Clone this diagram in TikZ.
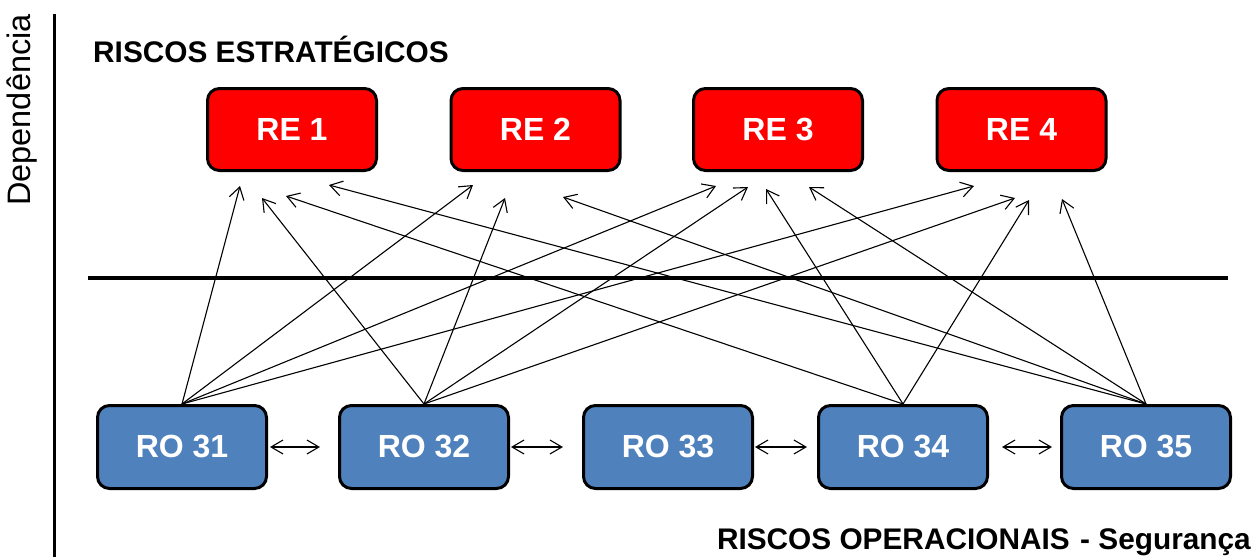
\documentclass[tikz,border=0pt]{standalone}
\usepackage{fontspec}
\setmainfont{Liberation Sans}
\usetikzlibrary{arrows.meta}
\definecolor{roblue}{HTML}{4F81BD}
\begin{document}
\begin{tikzpicture}[x=1pt,y=-1pt,
  rebox/.style={draw=black, line width=3pt, fill=red, rounded corners=12pt,
    minimum width=169pt, minimum height=82pt, inner sep=0pt, text=white,
    font=\fontsize{32}{32}\selectfont\bfseries},
  robox/.style={rebox, fill=roblue, minimum height=83pt},
  link/.style={line width=1.1pt, -{Straight Barb[length=12pt,width=15pt]}},
  pair/.style={line width=1.1pt, {Straight Barb[length=12pt,width=14pt]}-{Straight Barb[length=12pt,width=14pt]}},
  bigtext/.style={font=\fontsize{29.8}{29.8}\selectfont\bfseries, inner sep=0pt}
]
\useasboundingbox (0,0) rectangle (1255,557);

% axes
\coordinate (vtop) at (54.5,14);
\coordinate (vbot) at (54.5,557);
\draw[line width=3.5pt] (vtop) -- (vbot);
\coordinate (hl) at (88,278);
\coordinate (hr) at (1228,278);
\draw[line width=3.5pt] (hl) -- (hr);

\node[rotate=90, anchor=base, inner sep=0pt, font=\fontsize{32.5}{32.5}\selectfont] (dep) at (30,110) {Dependência};
\node[bigtext, anchor=base west] (title) at (93,62) {RISCOS ESTRATÉGICOS};
\node[bigtext, anchor=base east] (foot) at (1251,549) {RISCOS OPERACIONAIS\hspace{10.5pt}- Segurança};

% strategic risks
\node[rebox] (re1) at (292,129.5) {RE 1};
\node[rebox] (re2) at (535.5,129.5) {RE 2};
\node[rebox] (re3) at (778,129.5) {RE 3};
\node[rebox] (re4) at (1021.5,129.5) {RE 4};

% operational risks
\node[robox] (ro31) at (182,447) {RO 31};
\node[robox] (ro32) at (424,447) {RO 32};
\node[robox] (ro33) at (668,447) {RO 33};
\node[robox] (ro34) at (903,447) {RO 34};
\node[robox] (ro35) at (1146,447) {RO 35};

% arrow tip points
\coordinate (t11) at (240,186);
\coordinate (t21) at (262,198);
\coordinate (t41) at (286,196);
\coordinate (t51) at (329,185);
\coordinate (t12) at (473,185);
\coordinate (t22) at (505,198);
\coordinate (t52) at (563,197);
\coordinate (t13) at (716,186);
\coordinate (t23) at (748,187);
\coordinate (t43) at (766,189);
\coordinate (t53) at (809,187);
\coordinate (t14) at (974,186);
\coordinate (t24) at (1015,198);
\coordinate (t44) at (1029,200);
\coordinate (t54) at (1062,199);

\draw[link] (ro31.north) -- (t11);
\draw[link] (ro31.north) -- (t12);
\draw[link] (ro31.north) -- (t13);
\draw[link] (ro31.north) -- (t14);
\draw[link] (ro32.north) -- (t21);
\draw[link] (ro32.north) -- (t22);
\draw[link] (ro32.north) -- (t23);
\draw[link] (ro32.north) -- (t24);
\draw[link] (ro34.north) -- (t41);
\draw[link] (ro34.north) -- (t43);
\draw[link] (ro34.north) -- (t44);
\draw[link] (ro35.north) -- (t51);
\draw[link] (ro35.north) -- (t52);
\draw[link] (ro35.north) -- (t53);
\draw[link] (ro35.north) -- (t54);

% neighbour links
\draw[pair, shorten <=2pt, shorten >=18pt] (ro31.east) -- (ro32.west);
\draw[pair, shorten <=1pt, shorten >=19pt] (ro32.east) -- (ro33.west);
\draw[pair, shorten <=1pt, shorten >=10pt] (ro33.east) -- (ro34.west);
\draw[pair, shorten <=13pt, shorten >=8pt] (ro34.east) -- (ro35.west);
\end{tikzpicture}
\end{document}
